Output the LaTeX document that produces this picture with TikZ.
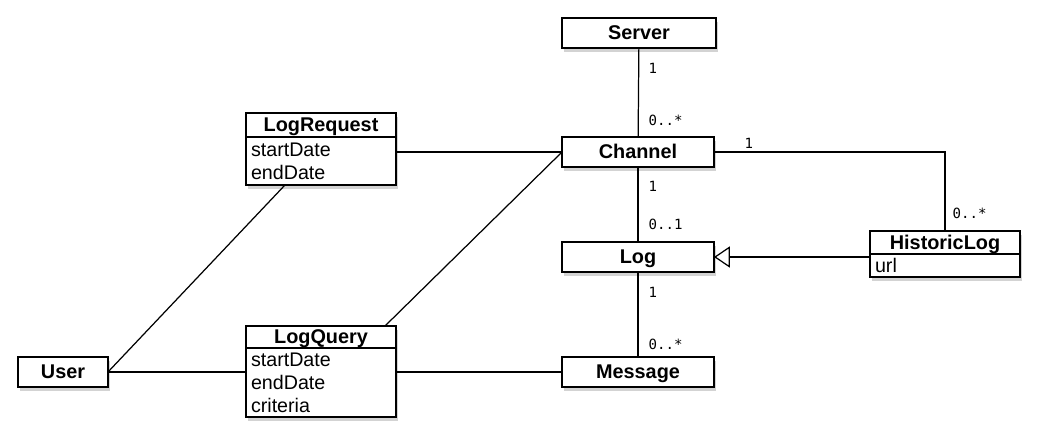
\documentclass[tikz,border=0pt]{standalone}
\usepackage{fontspec}
\setmainfont{Liberation Sans}
\newfontfamily\multfont{DejaVu Sans Mono}
\usetikzlibrary{positioning,shadows,arrows.meta}

\begin{document}
\begin{tikzpicture}[x=0.02cm, y=-0.02cm, line width=0.7pt,
	shd/.style={drop shadow={opacity=0.35, shadow xshift=1.2pt, shadow yshift=-2pt}},
	cls/.style={draw, fill=white, shd, line width=1pt, outer sep=0pt, minimum height=0.6cm, text height=8pt, text depth=0.5pt, inner ysep=1.5pt, font=\bfseries\fontsize{11.3}{13}\selectfont},
	ttl/.style={cls, minimum width=3cm},
	attr/.style={draw, fill=white, shd, line width=1pt, outer sep=0pt, text width=2.8cm, inner xsep=0.1cm, inner ysep=0pt, align=left, font=\fontsize{11.2}{13}\selectfont},
	mult/.style={anchor=west, inner sep=0pt, font=\multfont\fontsize{8}{9}\selectfont},
	gen/.style={-{Triangle[open, length=9pt, width=12pt]}}]
	\useasboundingbox (0,0) rectangle (1038,439);

	\node[cls, minimum width=3.08cm] (server) at (639,33) {Server};
	\node[cls, minimum width=3.04cm] (channel) at (638,152) {Channel};
	\node[cls, minimum width=3.04cm] (log) at (638,257) {Log};
	\node[cls, minimum width=3.04cm] (message) at (638,372) {Message};
	\node[cls, minimum width=1.8cm] (user) at (63,372) {User};

	\node[ttl, minimum height=0.48cm] (lrq) at (321,125) {LogRequest};
	\node[attr, below=0pt of lrq, minimum height=0.96cm] (lrqa) {startDate\\endDate};
	\node[ttl, minimum height=0.44cm] (lqy) at (321,337) {LogQuery};
	\node[attr, below=0pt of lqy, minimum height=1.38cm] (lqya) {startDate\\endDate\\criteria};
	\node[ttl, minimum height=0.46cm] (hist) at (945,242.5) {HistoricLog};
	\node[attr, below=0pt of hist, minimum height=0.46cm] (hista) {url};

	\draw (server) -- (channel);
	\draw (channel) -- (log);
	\draw (log) -- (message);
	\draw (channel.east) -| (hist.north);
	\draw[gen] (log.east -| hista.west) -- (log.east);
	\draw (lrqa.east |- channel.west) -- (channel.west);
	\draw ([xshift=-0.72cm]lrqa.south) -- (user.east);
	\draw ([xshift=-0.22cm]lqy.north east) -- (channel.west);
	\draw (user.east) -- (user.east -| lqya.west);
	\draw (message.west -| lqya.east) -- (message.west);

	\node[mult] (m1) at (648,68) {1};
	\node[mult] (m2) at (648,120) {0..*};
	\node[mult] (m3) at (648,186) {1};
	\node[mult] (m4) at (648,224) {0..1};
	\node[mult] (m5) at (648,292) {1};
	\node[mult] (m6) at (648,344) {0..*};
	\node[mult] (m7) at (744,143) {1};
	\node[mult] (m8) at (952,213) {0..*};
\end{tikzpicture}
\end{document}
